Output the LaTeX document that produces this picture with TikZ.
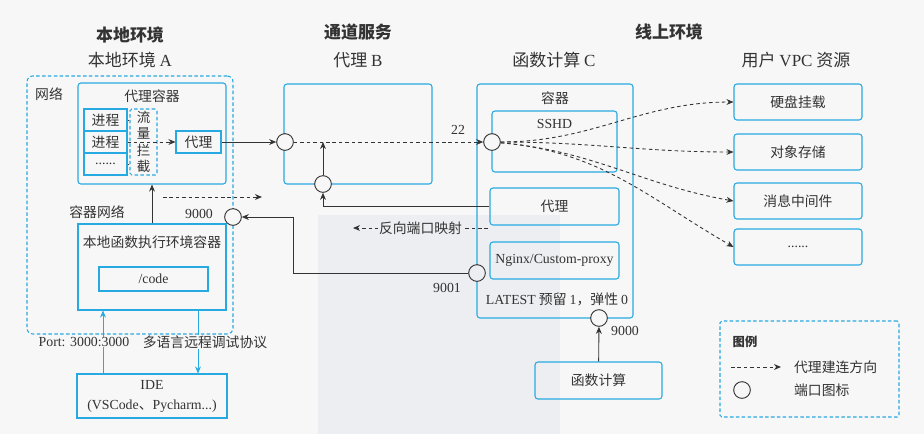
\documentclass[tikz,border=0pt]{standalone}
\usepackage{fontspec}
\setmainfont{Noto Sans CJK SC}
\newfontfamily\en{Liberation Serif}
\usetikzlibrary{arrows.meta,positioning}
\definecolor{boxblue}{HTML}{27A9E1}
\definecolor{ink}{HTML}{333333}
\definecolor{paper}{HTML}{F7F7F7}
\definecolor{wash}{HTML}{EDEEF2}
\newcommand\la[1]{{\en #1}}

\begin{document}
\begin{tikzpicture}[x=0.03cm, y=-0.03cm,
        every node/.style={text=ink, font=\fontsize{11.8}{14}\selectfont},
        bx/.style={rectangle, draw=boxblue, line width=0.9pt, rounded corners=2.5pt, inner sep=0pt},
        sq/.style={bx, sharp corners},
        dbx/.style={bx, dash pattern=on 3pt off 2pt},
        port/.style={circle, draw=ink, line width=0.8pt, fill=paper, minimum size=0.5cm, inner sep=0pt},
        arr/.style={draw=ink, line width=0.75pt, -{Stealth[length=6pt,width=5pt]}},
        darr/.style={arr, dash pattern=on 3pt off 2.5pt},
        barr/.style={arr, draw=boxblue},
        ttl/.style={font=\fontsize{14.5}{16}\selectfont},
        ttlb/.style={font=\fontsize{14.5}{16}\selectfont\bfseries},
        lbl/.style={inner sep=0.5pt}
    ]
    \useasboundingbox (0,0) rectangle (924,434);
    \fill[paper] (0,0) rectangle (924,434);
    \fill[wash] (318,215) rectangle (560,434);

    % titles
    \node[ttlb] (envl)  at (130,35) {本地环境};
    \node[ttl]  (envla) at (130,60) {本地环境 \la{A}};
    \node[ttlb] (tun)   at (358,32) {通道服务};
    \node[ttl]  (tunb)  at (358,60) {代理 \la{B}};
    \node[ttlb] (envo)  at (669,32) {线上环境};
    \node[ttl]  (fcc)   at (554,60) {函数计算 \la{C}};
    \node[ttl]  (vpc)   at (796,60) {用户 \la{VPC} 资源};

    % local side
    \node[dbx, rounded corners=5pt, minimum width=6.18cm, minimum height=7.74cm] (net) at (130,205) {};
    \node (netl) at (49,94) {网络};
    \node[bx, minimum width=4.44cm, minimum height=3.03cm] (pc) at (152,133.5) {};
    \node (pct) at (152,96) {代理容器};
    \node[sq, minimum width=1.29cm, minimum height=0.66cm] (p1) at (105.5,120) {进程};
    \node[sq, minimum width=1.29cm, minimum height=0.66cm] (p2) at (105.5,142) {进程};
    \node[sq, minimum width=1.29cm, minimum height=0.66cm] (p3) at (105.5,164) {\la{......}};
    \node[dbx, rounded corners=1.5pt, minimum width=0.81cm, minimum height=1.98cm, align=center,
          font=\fontsize{11.5}{14}\selectfont] (ic) at (143.5,142) {流\\量\\拦\\截};
    \node[sq, minimum width=1.35cm, minimum height=0.66cm] (pa) at (198.5,142) {代理};
    \node (lcl) at (97,212) {容器网络};
    \node[sq, minimum width=4.44cm, minimum height=2.58cm] (lc) at (152,267) {};
    \node (lct) at (152,242) {本地函数执行环境容器};
    \node[sq, minimum width=3.27cm, minimum height=0.72cm] (code) at (153.5,279) {\la{/code}};
    \node[sq, minimum width=4.5cm, minimum height=1.32cm, align=center,
          font=\fontsize{11.8}{17}\selectfont] (ide) at (152,396) {\la{IDE}\\\la{(VSCode}、\la{Pycharm...)}};
    \node[port] (c6) at (233,217) {};

    % tunnel
    \node[bx, minimum width=4.44cm, minimum height=3.0cm] (pb) at (358,134) {};
    \node[port] (c1) at (285,142) {};
    \node[port] (c2) at (323,184) {};

    % online side
    \node[bx, minimum width=4.68cm, minimum height=7.02cm] (fc) at (555,201) {};
    \node (fct) at (555,98) {容器};
    \node[bx, minimum width=3.75cm, minimum height=1.83cm] (sshd) at (554.5,141.5) {};
    \node (sshdt) at (554.5,124) {\la{SSHD}};
    \node[bx, minimum width=3.87cm, minimum height=1.11cm] (pcc) at (554.5,206.5) {代理};
    \node[bx, minimum width=3.87cm, minimum height=1.11cm] (ngx) at (554.5,260.5) {\la{Nginx/Custom-proxy}};
    \node (lat) at (557,299) {\la{LATEST} 预留 \la{1}，弹性 \la{0}};
    \node[port] (c3) at (492,142) {};
    \node[port, fill=wash] (c4) at (477,273) {};
    \node[port] (c5) at (599,318) {};
    \node[bx, minimum width=3.81cm, minimum height=1.11cm] (fcalc) at (598.5,380.5) {函数计算};

    \node[bx, minimum width=3.84cm, minimum height=1.08cm] (v1) at (798,102) {硬盘挂载};
    \node[bx, minimum width=3.84cm, minimum height=1.08cm] (v2) at (798,152) {对象存储};
    \node[bx, minimum width=3.84cm, minimum height=1.08cm] (v3) at (798,201) {消息中间件};
    \node[bx, minimum width=3.84cm, minimum height=1.08cm] (v4) at (798,247) {\la{......}};

    % port labels
    \node (l22)    at (458,130) {\la{22}};
    \node (l9001)  at (447,288) {\la{9001}};
    \node (l9000a) at (199,214) {\la{9000}};
    \node (l9000b) at (625,331) {\la{9000}};

    % connectors
    \draw[ink, line width=0.7pt, dash pattern=on 2pt off 1.5pt] (p1) -- (p1 -| ic.west);
    \draw[ink, line width=0.7pt, dash pattern=on 2pt off 1.5pt] (p3) -- (p3 -| ic.west);
    \draw[darr] (p2) -- (pa);
    \draw[arr] (pa) -- (c1);
    \draw[darr] (c1) -- (c3);
    \draw[arr] (c2) -- (c2 |- c1);
    \draw[arr] (pcc.west) -| (c2);
    \coordinate (rvs) at (488,228);
    \coordinate (rve) at (353,228);
    \draw[darr] (rvs) -- node[lbl, fill=wash] (rvl) {反向端口映射} (rve);
    \coordinate (bend) at (293,217);
    \draw[arr] (c4) -| (bend) -- (c6);
    \coordinate (ls) at (163,197);
    \coordinate (le) at (262,197);
    \draw[darr] (ls) -- (le);
    \draw[arr] (lc) -- (pc);
    \draw[arr] (fcalc) -- (c5);
    \draw[barr] ([xshift=-1.47cm]ide.north) -- ([xshift=-1.47cm]lc.south);
    \draw[barr] ([xshift=1.38cm]lc.south) -- ([xshift=1.38cm]ide.north);
    \node[lbl, fill=paper] (portl) at (84,342) {\la{Port: 3000:3000}};
    \node[lbl, fill=paper] (dbgl) at (205,342) {多语言远程调试协议};
    \draw[darr] (c3) to[out=0, in=180] (v1.west);
    \draw[darr] (c3) to[out=0, in=180] (v2.west);
    \draw[darr] (c3) to[out=-5, in=170] (v3.west);
    \draw[darr] (c3) to[out=-5, in=150] (v4.west);

    % legend
    \node[dbx, rounded corners=1.5pt, minimum width=5.37cm, minimum height=2.88cm] (lg) at (809.5,369) {};
    \node[font=\fontsize{10.5}{12}\selectfont\bfseries] (lgt) at (745,342) {图例};
    \coordinate (lga) at (731,367);
    \coordinate (lgb) at (781,367);
    \draw[darr] (lga) -- (lgb);
    \node[anchor=west] (lgd) at (790,367) {代理建连方向};
    \node[port] (lgc) at (742,390) {};
    \node[anchor=west] (lgp) at (790,390) {端口图标};
\end{tikzpicture}
\end{document}
